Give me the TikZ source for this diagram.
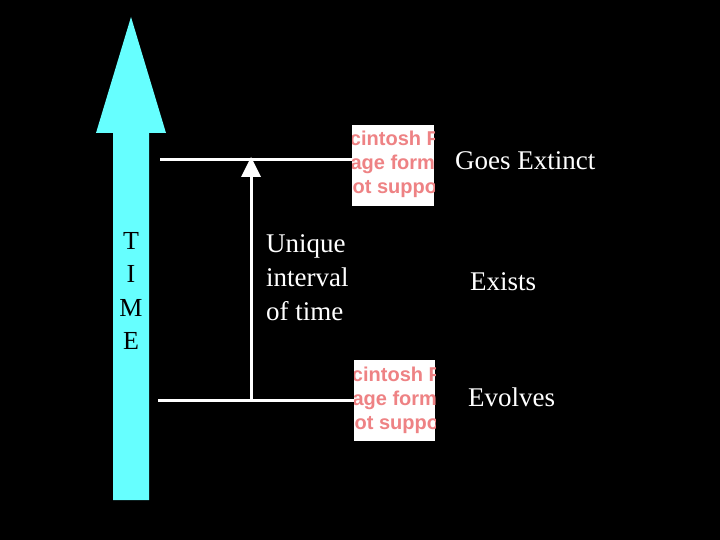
\documentclass[tikz,border=0pt]{standalone}
\usepackage{fontspec}
\setmainfont{Liberation Serif}
\newfontfamily\pictfont{Liberation Sans}
\definecolor{timecyan}{RGB}{102,255,255}
\definecolor{pictpink}{RGB}{238,130,132}
\begin{document}
\begin{tikzpicture}[x=1pt,y=-1pt,
  lbl/.style={text=white,font=\fontsize{27}{34}\selectfont,inner sep=0pt},
  pict/.style={text=pictpink,font=\pictfont\bfseries\fontsize{20}{24}\selectfont,inner sep=0pt,anchor=base west},
  bar/.style={white,line width=3pt}]
\fill[black] (0,0) rectangle (720,540);
\useasboundingbox (0,0) rectangle (720,540);
% big time arrow
\fill[timecyan] (113,500) -- (113,133) -- (96,133) -- (131,17) -- (166,133) -- (149,133) -- (149,500) -- cycle;
\node[lbl,text=black,align=center,font=\fontsize{26}{33.5}\selectfont] (time) at (131,291) {T\\I\\M\\E};
% picture placeholders
\begin{scope}
\clip (352,125) rectangle (434,206);
\fill[white] (352,125) rectangle (434,206);
\node[pict] (p1a) at (322,146) {Macintosh PICT};
\node[pict] (p1b) at (327,170) {image format};
\node[pict] (p1c) at (318,194) {is not supported};
\end{scope}
\begin{scope}
\clip (354,360) rectangle (435,441);
\fill[white] (354,360) rectangle (435,441);
\node[pict] (p2a) at (324,381) {Macintosh PICT};
\node[pict] (p2b) at (329,405) {image format};
\node[pict] (p2c) at (320,429) {is not supported};
\end{scope}
\coordinate (tl) at (160,160);
\coordinate (tr) at (352,160);
\coordinate (bl) at (158,400);
\coordinate (br) at (354,400);
\draw[bar] (tl) -- (tr);
\draw[bar] (bl) -- (br);
\coordinate (ab) at (251,400);
\coordinate (at) at (251,176);
\draw[bar] (ab) -- (at);
\fill[white] (241,177) -- (251,157) -- (261,177) -- cycle;
\node[lbl,align=left,anchor=north west] (uniq) at (266,234) {Unique\\interval\\of time};
\node[lbl,anchor=west] (ext) at (455,161) {Goes Extinct};
\node[lbl,anchor=west] (exi) at (470,282) {Exists};
\node[lbl,anchor=west] (evo) at (468,397) {Evolves};
\end{tikzpicture}
\end{document}
